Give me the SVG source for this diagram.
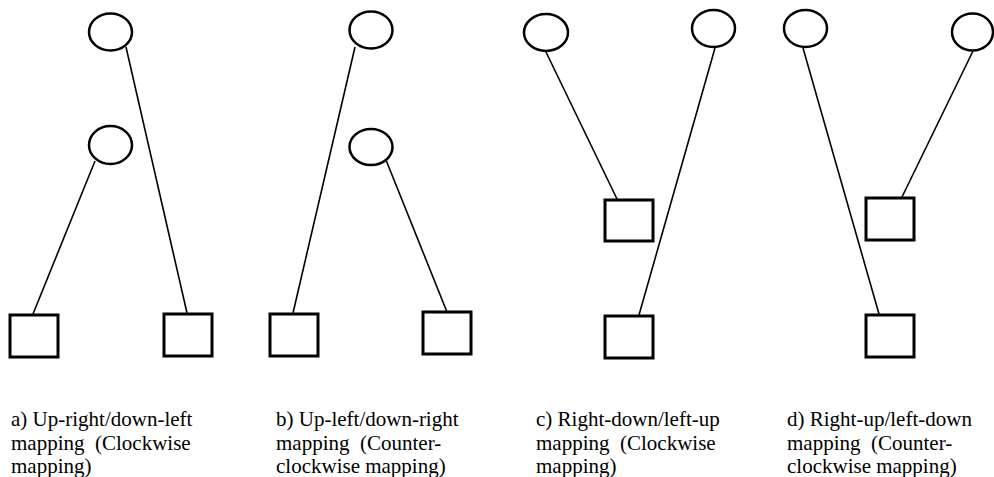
<svg xmlns="http://www.w3.org/2000/svg" width="994" height="477" viewBox="0 0 994 477">
<style>
.c{fill:#fff;stroke:#000;stroke-width:2.5}
.s{fill:#fff;stroke:#000;stroke-width:3}
.e{stroke:#000;stroke-width:1.6;fill:none}
.t text{font-family:"Liberation Serif","Times New Roman",serif;font-size:21px;fill:#000;white-space:pre}
</style>
<rect width="994" height="477" fill="#fff"/>
<g id="connectors">
<line class="e" x1="126" y1="47" x2="187" y2="313"/>
<line class="e" x1="95" y1="161" x2="33" y2="314"/>
<line class="e" x1="355" y1="47" x2="293" y2="313"/>
<line class="e" x1="386" y1="160" x2="447" y2="312"/>
<line class="e" x1="546" y1="52" x2="617" y2="199"/>
<line class="e" x1="715" y1="48" x2="639" y2="315"/>
<line class="e" x1="803" y1="48" x2="879" y2="314"/>
<line class="e" x1="973" y1="51" x2="902" y2="197"/>
</g>
<g id="a-top"><ellipse class="c" cx="110.5" cy="32" rx="21.5" ry="18.5"/></g>
<g id="a-mid"><ellipse class="c" cx="110.5" cy="145" rx="21.5" ry="19"/></g>
<g id="a-left"><rect class="s" x="10" y="315" width="48" height="42"/></g>
<g id="a-right"><rect class="s" x="164" y="314" width="48" height="42"/></g>
<g id="b-top"><ellipse class="c" cx="371" cy="30" rx="21.5" ry="18.5"/></g>
<g id="b-mid"><ellipse class="c" cx="371" cy="147" rx="21.5" ry="18"/></g>
<g id="b-left"><rect class="s" x="270" y="314" width="48" height="42"/></g>
<g id="b-right"><rect class="s" x="423" y="312" width="48" height="42"/></g>
<g id="c-left"><ellipse class="c" cx="546" cy="32.5" rx="22" ry="18.5"/></g>
<g id="c-right"><ellipse class="c" cx="713.5" cy="28.5" rx="21.5" ry="18.5"/></g>
<g id="c-upper"><rect class="s" x="605" y="200" width="48" height="41"/></g>
<g id="c-lower"><rect class="s" x="605" y="316" width="48" height="42"/></g>
<g id="d-left"><ellipse class="c" cx="805.5" cy="28.5" rx="21.5" ry="18.5"/></g>
<g id="d-right"><ellipse class="c" cx="972.5" cy="32" rx="20.5" ry="18.5"/></g>
<g id="d-upper"><rect class="s" x="866" y="198" width="48" height="42"/></g>
<g id="d-lower"><rect class="s" x="866" y="315" width="48" height="42"/></g>
<g id="labels" class="t">
<text x="11" y="426">a) Up-right/down-left</text>
<text x="11" y="449.5">mapping  (Clockwise</text>
<text x="11" y="473">mapping)</text>
<text x="276" y="426">b) Up-left/down-right</text>
<text x="276" y="449.5">mapping  (Counter-</text>
<text x="276" y="473">clockwise mapping)</text>
<text x="536" y="426">c) Right-down/left-up</text>
<text x="536" y="449.5">mapping  (Clockwise</text>
<text x="536" y="473">mapping)</text>
<text x="787" y="426">d) Right-up/left-down</text>
<text x="787" y="449.5">mapping  (Counter-</text>
<text x="787" y="473">clockwise mapping)</text>
</g>
</svg>
